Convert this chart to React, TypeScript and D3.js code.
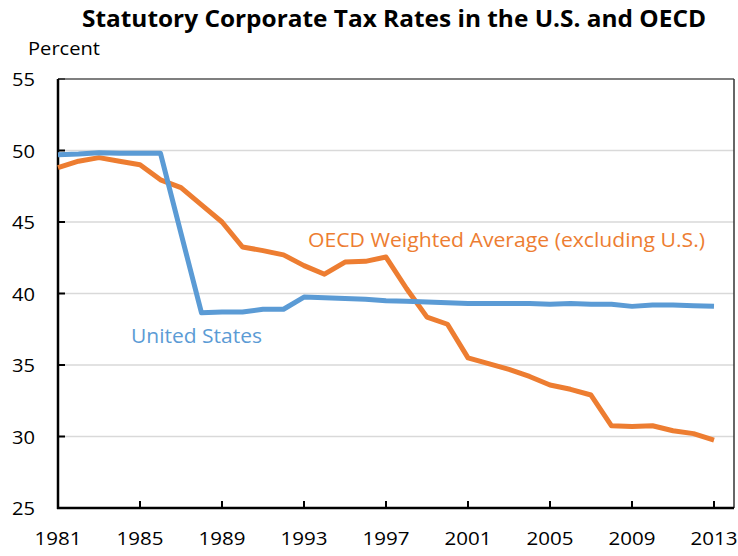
import React from "react";
import * as d3 from "d3";

const years = d3.range(1981, 2014);
const usRates = [49.7, 49.75, 49.85, 49.8, 49.8, 49.8, 44.2, 38.65, 38.7, 38.7, 38.9, 38.9, 39.75, 39.7, 39.65, 39.6, 39.5, 39.45, 39.4, 39.35, 39.3, 39.3, 39.3, 39.3, 39.25, 39.3, 39.25, 39.25, 39.1, 39.2, 39.2, 39.15, 39.1];
const oecdRates = [48.8, 49.25, 49.5, 49.25, 49.0, 47.95, 47.4, 46.2, 45.0, 43.25, 43.0, 42.7, 41.95, 41.35, 42.2, 42.25, 42.55, 40.35, 38.35, 37.85, 35.5, 35.1, 34.7, 34.2, 33.6, 33.3, 32.9, 30.75, 30.7, 30.75, 30.4, 30.2, 29.75];
const yTicks = [25, 30, 35, 40, 45, 50, 55];
const xTickYears = [1981, 1985, 1989, 1993, 1997, 2001, 2005, 2009, 2013];

const FONT = "'Open Sans', Lato, sans-serif";

export default function App() {
  const left = 58, right = 734, top = 79, bottom = 508;
  const x = d3.scaleLinear().domain([1981, 2013]).range([left, 714]);
  const y = d3.scaleLinear().domain([25, 55]).range([bottom, top]);
  const line = d3.line<number>().x((_, i) => x(years[i])).y((d) => y(d));

  return (
    <svg width={738} height={556} style={{ position: "absolute", left: 0, top: 0, background: "#fff" }}>
      <text x={394} y={26.5} textAnchor="middle" fontFamily={FONT} fontWeight="bold" fontSize={24} textLength={624} lengthAdjust="spacingAndGlyphs">
        Statutory Corporate Tax Rates in the U.S. and OECD
      </text>
      <text x={28} y={55} fontFamily={FONT} fontSize={18} textLength={72} lengthAdjust="spacingAndGlyphs">Percent</text>
      {yTicks.map((t) => (
        <g key={t}>
          {t !== 25 && t !== 55 && <line x1={left} x2={right} y1={y(t)} y2={y(t)} stroke="#d9d9d9" strokeWidth={1.3} />}
          <line x1={left} x2={left + 7} y1={y(t)} y2={y(t)} stroke="#000" strokeWidth={2} />
          <text x={35} y={y(t) + 7} textAnchor="end" fontFamily={FONT} fontSize={19} textLength={23} lengthAdjust="spacingAndGlyphs">{t}</text>
        </g>
      ))}
      <line x1={left} x2={right} y1={top} y2={top} stroke="#555" strokeWidth={1.5} />
      <line x1={right} x2={right} y1={top} y2={bottom} stroke="#333" strokeWidth={1.5} />
      {xTickYears.map((t) => (
        <g key={t}>
          <line x1={x(t)} x2={x(t)} y1={bottom} y2={bottom - 7} stroke="#000" strokeWidth={2} />
          <text x={x(t) - 23.5} y={545} fontFamily={FONT} fontSize={19} textLength={47} lengthAdjust="spacingAndGlyphs">{t}</text>
        </g>
      ))}
      <line x1={left} x2={left} y1={top} y2={bottom + 1} stroke="#000" strokeWidth={2.5} />
      <line x1={left - 1} x2={right} y1={bottom} y2={bottom} stroke="#000" strokeWidth={2.5} />
      <path d={line(oecdRates) || ""} fill="none" stroke="#ED7D31" strokeWidth={5} strokeLinejoin="round" />
      <path d={line(usRates) || ""} fill="none" stroke="#5B9BD5" strokeWidth={5} strokeLinejoin="round" />
      <text x={131} y={343} fontFamily={FONT} fontSize={20} fill="#5B9BD5" textLength={131} lengthAdjust="spacingAndGlyphs">United States</text>
      <text x={308} y={247} fontFamily={FONT} fontSize={20} fill="#ED7D31" textLength={397} lengthAdjust="spacingAndGlyphs">OECD Weighted Average (excluding U.S.)</text>
    </svg>
  );
}
